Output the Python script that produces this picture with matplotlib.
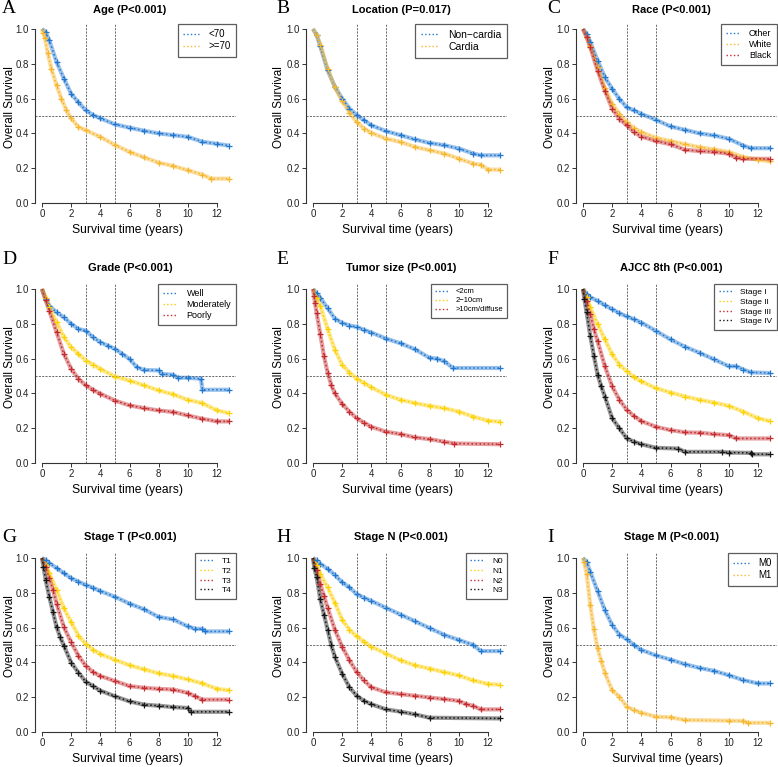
import matplotlib
matplotlib.use('Agg')
import matplotlib.pyplot as plt
from matplotlib.lines import Line2D

plt.rcParams['font.family'] = ['Liberation Sans', 'DejaVu Sans']

W, H = 778, 767

BLUE = '#1f77d0'
GOLD = '#f7b52a'
YELLOW = '#fdd000'
RED = '#c42a2e'
BLACK = '#161616'

# survival curves: (years, survival)
age_lt70 = [(0, 1.0), (0.25, 0.983), (0.5, 0.935), (1, 0.81), (1.5, 0.715), (2, 0.628), (2.5, 0.578),
            (3, 0.533), (3.5, 0.505), (4, 0.487), (5, 0.452), (6, 0.433), (7, 0.415), (8, 0.40),
            (9, 0.39), (10, 0.38), (11, 0.352), (12, 0.34), (12.8, 0.33)]
age_ge70 = [(0, 1.0), (0.1, 0.975), (0.2, 0.95), (0.4, 0.86), (0.65, 0.77), (1, 0.676), (1.33, 0.60),
            (1.67, 0.533), (2, 0.486), (2.5, 0.437), (3, 0.418), (4, 0.38), (5, 0.333), (6, 0.294),
            (7, 0.262), (8, 0.232), (9, 0.213), (10, 0.188), (11, 0.163), (11.6, 0.14), (12.8, 0.14)]

loc_noncardia = [(0, 1.0), (0.25, 0.965), (0.5, 0.90), (1, 0.764), (1.5, 0.668), (2, 0.60), (2.5, 0.543),
                 (3, 0.505), (3.5, 0.476), (4, 0.447), (5, 0.413), (6, 0.39), (7, 0.365), (8, 0.345),
                 (9, 0.332), (10, 0.313), (11, 0.284), (11.5, 0.274), (12.8, 0.274)]
loc_cardia = [(0, 1.0), (0.25, 0.965), (0.5, 0.91), (1, 0.77), (1.5, 0.665), (2, 0.585), (2.5, 0.52),
              (3, 0.466), (3.5, 0.428), (4, 0.403), (5, 0.37), (6, 0.351), (7, 0.322), (8, 0.303),
              (9, 0.284), (10, 0.255), (11, 0.226), (11.5, 0.22), (12, 0.192), (12.8, 0.192)]

race_other = [(0, 1.0), (0.25, 0.97), (0.5, 0.925), (1, 0.818), (1.5, 0.723), (2, 0.656), (2.5, 0.598),
              (3, 0.55), (3.5, 0.532), (4, 0.512), (5, 0.478), (6, 0.44), (7, 0.42), (8, 0.40),
              (9, 0.388), (10, 0.369), (11, 0.33), (11.5, 0.315), (12.8, 0.315)]
race_white = [(0, 1.0), (0.25, 0.955), (0.5, 0.905), (1, 0.78), (1.5, 0.66), (2, 0.57), (2.5, 0.512),
              (3, 0.465), (3.5, 0.43), (4, 0.407), (5, 0.375), (6, 0.356), (7, 0.337), (8, 0.321),
              (9, 0.308), (10, 0.293), (11, 0.264), (12, 0.249), (12.8, 0.24)]
race_black = [(0, 1.0), (0.25, 0.952), (0.5, 0.895), (1, 0.761), (1.5, 0.646), (2, 0.541), (2.5, 0.484),
              (3, 0.446), (3.5, 0.407), (4, 0.382), (5, 0.356), (6, 0.337), (7, 0.306), (8, 0.298),
              (9, 0.293), (10, 0.283), (10.5, 0.26), (11, 0.254), (12.8, 0.254)]

grade_well = [(0, 1.0), (0.25, 0.943), (0.5, 0.904), (1, 0.866), (1.5, 0.837), (2, 0.80), (2.5, 0.77),
              (3, 0.761), (3.5, 0.723), (4, 0.694), (4.5, 0.675), (5, 0.656), (5.5, 0.627), (6, 0.598),
              (6.5, 0.551), (7, 0.535), (8, 0.532), (8.2, 0.512), (9, 0.507), (9.3, 0.49), (10, 0.49),
              (10.9, 0.484), (11, 0.421), (12.8, 0.421)]
grade_moderate = [(0, 1.0), (0.25, 0.95), (0.5, 0.895), (1, 0.81), (1.5, 0.723), (2, 0.665), (2.5, 0.627),
                  (3, 0.589), (3.5, 0.566), (4, 0.541), (5, 0.497), (6, 0.474), (7, 0.446), (8, 0.417),
                  (9, 0.394), (10, 0.363), (11, 0.344), (12, 0.302), (12.8, 0.287)]
grade_poor = [(0, 1.0), (0.25, 0.935), (0.5, 0.876), (1, 0.751), (1.5, 0.627), (2, 0.541), (2.5, 0.484),
              (3, 0.446), (3.5, 0.421), (4, 0.398), (5, 0.359), (6, 0.331), (7, 0.315), (8, 0.302),
              (9, 0.293), (10, 0.273), (11, 0.254), (12, 0.239), (12.8, 0.239)]

size_small = [(0, 1.0), (0.25, 0.975), (0.5, 0.95), (1, 0.89), (1.5, 0.83), (2, 0.805), (2.5, 0.79),
              (3, 0.782), (3.5, 0.765), (4, 0.75), (5, 0.715), (6, 0.688), (7, 0.653), (8, 0.604),
              (8.5, 0.60), (9, 0.585), (9.6, 0.546), (12.8, 0.546)]
size_mid = [(0, 1.0), (0.25, 0.95), (0.5, 0.905), (1, 0.77), (1.5, 0.65), (2, 0.565), (2.5, 0.52),
            (3, 0.485), (3.5, 0.46), (4, 0.435), (5, 0.392), (6, 0.363), (7, 0.344), (8, 0.328),
            (9, 0.315), (10, 0.295), (11, 0.266), (12, 0.243), (12.8, 0.237)]
size_large = [(0, 1.0), (0.07, 0.96), (0.14, 0.92), (0.25, 0.862), (0.5, 0.74), (0.75, 0.615), (1, 0.52),
              (1.25, 0.45), (1.5, 0.40), (2, 0.34), (2.5, 0.295), (3, 0.257), (3.5, 0.232), (4, 0.208),
              (5, 0.18), (6, 0.166), (7, 0.147), (8, 0.137), (9, 0.122), (9.7, 0.112), (12.8, 0.108)]

ajcc_1 = [(0, 1.0), (0.25, 0.97), (0.5, 0.952), (1, 0.932), (1.5, 0.907), (2, 0.884), (2.5, 0.861),
          (3, 0.842), (3.5, 0.826), (4, 0.807), (5, 0.759), (6, 0.71), (7, 0.668), (8, 0.633),
          (9, 0.595), (10, 0.556), (10.5, 0.556), (11, 0.537), (11.5, 0.521), (12.8, 0.517)]
ajcc_2 = [(0, 1.0), (0.25, 0.952), (0.5, 0.894), (1, 0.797), (1.5, 0.71), (2, 0.624), (2.5, 0.566),
          (3, 0.527), (3.5, 0.494), (4, 0.469), (5, 0.43), (6, 0.405), (7, 0.382), (8, 0.363),
          (9, 0.347), (10, 0.328), (11, 0.295), (12, 0.257), (12.8, 0.241)]
ajcc_3 = [(0, 1.0), (0.25, 0.932), (0.5, 0.855), (0.75, 0.768), (1, 0.70), (1.5, 0.556), (2, 0.44),
          (2.5, 0.363), (3, 0.305), (3.5, 0.27), (4, 0.241), (5, 0.208), (6, 0.189), (7, 0.176),
          (8, 0.174), (9, 0.166), (10, 0.16), (10.5, 0.141), (12.8, 0.141)]
ajcc_4 = [(0, 1.0), (0.1, 0.94), (0.25, 0.865), (0.5, 0.73), (0.75, 0.614), (1, 0.508), (1.25, 0.44),
          (1.5, 0.382), (2, 0.257), (2.5, 0.199), (3, 0.141), (3.5, 0.122), (4, 0.108), (5, 0.087),
          (6.5, 0.083), (7, 0.064), (9.5, 0.064), (10, 0.06), (11.5, 0.058), (11.6, 0.05), (12.8, 0.05)]

t_1 = [(0, 1.0), (0.25, 0.99), (0.5, 0.971), (1, 0.942), (1.5, 0.913), (2, 0.884), (2.5, 0.864),
       (3, 0.845), (3.5, 0.829), (4, 0.81), (5, 0.777), (6, 0.738), (7, 0.705), (8, 0.661),
       (9, 0.647), (10, 0.607), (10.5, 0.593), (11, 0.593), (11.2, 0.578), (12.8, 0.578)]
t_2 = [(0, 1.0), (0.25, 0.961), (0.5, 0.913), (1, 0.816), (1.5, 0.71), (2, 0.632), (2.5, 0.554),
       (3, 0.506), (3.5, 0.473), (4, 0.448), (5, 0.415), (6, 0.384), (7, 0.36), (8, 0.337),
       (9, 0.322), (10, 0.302), (11, 0.279), (12, 0.248), (12.8, 0.24)]
t_3 = [(0, 1.0), (0.25, 0.95), (0.5, 0.884), (0.75, 0.816), (1, 0.738), (1.5, 0.603), (2, 0.516),
       (2.5, 0.438), (3, 0.38), (3.5, 0.345), (4, 0.322), (5, 0.293), (6, 0.264), (7, 0.254),
       (8, 0.248), (9, 0.244), (10, 0.225), (10.5, 0.205), (11, 0.186), (12.8, 0.186)]
t_4 = [(0, 1.0), (0.1, 0.95), (0.25, 0.874), (0.5, 0.777), (0.75, 0.69), (1, 0.603), (1.25, 0.545),
       (1.5, 0.496), (2, 0.399), (2.5, 0.341), (3, 0.289), (3.5, 0.264), (4, 0.238), (5, 0.205),
       (6, 0.176), (7, 0.157), (8, 0.151), (9, 0.143), (10, 0.138), (10.2, 0.116), (12.8, 0.116)]

n_0 = [(0, 1.0), (0.25, 0.986), (0.5, 0.967), (1, 0.938), (1.5, 0.903), (2, 0.86), (2.5, 0.831),
       (3, 0.792), (3.5, 0.772), (4, 0.753), (5, 0.714), (6, 0.675), (7, 0.636), (8, 0.597),
       (9, 0.558), (10, 0.529), (11, 0.50), (11.5, 0.465), (12.8, 0.465)]
n_1 = [(0, 1.0), (0.25, 0.96), (0.5, 0.908), (1, 0.831), (1.5, 0.743), (2, 0.646), (2.5, 0.588),
       (3, 0.549), (3.5, 0.52), (4, 0.49), (5, 0.451), (6, 0.412), (7, 0.383), (8, 0.364),
       (9, 0.344), (10, 0.325), (11, 0.296), (12, 0.276), (12.8, 0.272)]
n_2 = [(0, 1.0), (0.25, 0.93), (0.5, 0.85), (0.75, 0.782), (1, 0.714), (1.5, 0.588), (2, 0.49),
       (2.5, 0.412), (3, 0.344), (3.5, 0.296), (4, 0.257), (5, 0.228), (6, 0.218), (7, 0.208),
       (8, 0.198), (9, 0.189), (10, 0.179), (10.5, 0.16), (11, 0.15), (11.5, 0.13), (12.8, 0.13)]
n_3 = [(0, 1.0), (0.1, 0.94), (0.25, 0.889), (0.5, 0.763), (0.75, 0.675), (1, 0.588), (1.25, 0.50),
       (1.5, 0.432), (2, 0.335), (2.5, 0.257), (3, 0.208), (3.5, 0.179), (4, 0.16), (5, 0.13),
       (6, 0.117), (7, 0.101), (8, 0.082), (12.8, 0.078)]

m_0 = [(0, 1.0), (0.25, 0.977), (0.5, 0.92), (1, 0.81), (1.5, 0.70), (2, 0.615), (2.5, 0.56),
       (3, 0.533), (3.5, 0.50), (4, 0.472), (5, 0.44), (6, 0.416), (7, 0.389), (8, 0.368),
       (9, 0.351), (10, 0.326), (11, 0.298), (12, 0.279), (12.8, 0.279)]
m_1 = [(0, 1.0), (0.07, 0.977), (0.25, 0.91), (0.5, 0.73), (0.75, 0.59), (1, 0.48), (1.25, 0.41),
       (1.5, 0.34), (2, 0.24), (2.5, 0.202), (3, 0.145), (3.5, 0.126), (4, 0.111), (5, 0.088),
       (6, 0.084), (7, 0.069), (10, 0.065), (11, 0.063), (11.3, 0.053), (12.8, 0.053)]

# panel definitions
titles = ['Age (P<0.001)', 'Location (P=0.017)', 'Race (P<0.001)',
          'Grade (P<0.001)', 'Tumor size (P<0.001)', 'AJCC 8th (P<0.001)',
          'Stage T (P<0.001)', 'Stage N (P<0.001)', 'Stage M (P<0.001)']
letters = ['A', 'B', 'C', 'D', 'E', 'F', 'G', 'H', 'I']
panel_curves = [[age_lt70, age_ge70], [loc_noncardia, loc_cardia], [race_other, race_white, race_black],
                [grade_well, grade_moderate, grade_poor], [size_small, size_mid, size_large],
                [ajcc_1, ajcc_2, ajcc_3, ajcc_4], [t_1, t_2, t_3, t_4], [n_0, n_1, n_2, n_3], [m_0, m_1]]
panel_labels = [['<70', '>=70'], ['Non\u2212cardia', 'Cardia'], ['Other', 'White', 'Black'],
                ['Well', 'Moderately', 'Poorly'], ['<2cm', '2\u221210cm', '>10cm/diffuse'],
                ['Stage I', 'Stage II', 'Stage III', 'Stage IV'], ['T1', 'T2', 'T3', 'T4'],
                ['N0', 'N1', 'N2', 'N3'], ['M0', 'M1']]
panel_colors = [[BLUE, GOLD], [BLUE, GOLD], [BLUE, GOLD, RED],
                [BLUE, YELLOW, RED], [BLUE, YELLOW, RED], [BLUE, YELLOW, RED, BLACK],
                [BLUE, YELLOW, RED, BLACK], [BLUE, YELLOW, RED, BLACK], [BLUE, GOLD]]
legend_sizes = [7, 7.5, 6.5, 6.5, 5.5, 6, 6, 6, 7]

# layout in pixels
col_x0 = [42, 313, 583]          # x position of t = 0
row_y0 = [203, 463, 732]         # y position of survival = 0
letter_x = [2, 276, 547]
letter_y = [8.5, 259, 537]
title_y = [10, 268, 537]
ylab_x = [10, 279, 550]
PX_X = 175 / 12.0                # pixels per year
PX_Y = 174.0                     # pixels per unit survival
XLIM = (-0.48, 13.31)
YLIM = (0, 1.03)


def fx(px):
    return px / W


def fy(py):
    return 1 - py / H


def draw_panel(fig, i):
    r, c = divmod(i, 3)
    x0, y0 = col_x0[c], row_y0[r]
    left = x0 + XLIM[0] * PX_X
    width = (XLIM[1] - XLIM[0]) * PX_X
    height = (YLIM[1] - YLIM[0]) * PX_Y
    ax = fig.add_axes([fx(left), fy(y0), width / W, height / H])
    ax.set_xlim(*XLIM)
    ax.set_ylim(*YLIM)
    ax.patch.set_alpha(0)

    # reference lines at median survival and 3 / 5 years
    ax.axhline(0.5, color='#555555', lw=0.6, dashes=(2.5, 1.5), zorder=1)
    for xv in (3, 5):
        ax.axvline(xv, color='#555555', lw=0.6, dashes=(2.5, 1.5), zorder=1)

    for pts, col in zip(panel_curves[i], panel_colors[i]):
        t = [p[0] for p in pts]
        s = [p[1] for p in pts]
        ax.plot(t, s, color=col, lw=3.0, alpha=0.45, solid_capstyle='butt', zorder=2)
        ax.plot(t, s, color=col, lw=1.1, ls=':', zorder=3)
        ax.plot(t[1:], s[1:], ls='none', marker='+', ms=4.5, mew=0.9, color=col, zorder=3)

    for side in ('top', 'right'):
        ax.spines[side].set_visible(False)
    for side in ('left', 'bottom'):
        ax.spines[side].set_color('#333333')
        ax.spines[side].set_linewidth(0.8)
    ax.spines['bottom'].set_bounds(0, 12)
    ax.spines['left'].set_bounds(0, 1)
    ax.set_xticks([0, 2, 4, 6, 8, 10, 12])
    ax.set_yticks([0, 0.2, 0.4, 0.6, 0.8, 1.0])
    ax.set_yticklabels(['0.0', '0.2', '0.4', '0.6', '0.8', '1.0'])
    ax.tick_params(length=3, width=0.7, labelsize=7, pad=1.2, color='#333333', labelcolor='#222222')

    handles = [Line2D([], [], color=col, lw=1.0, ls=':') for col in panel_colors[i]]
    leg = ax.legend(handles, panel_labels[i], loc='upper right', fontsize=legend_sizes[i],
                    frameon=True, fancybox=False, borderaxespad=0, handlelength=1.6,
                    handletextpad=1.0, borderpad=0.55, labelspacing=0.22)
    leg.get_frame().set_edgecolor('#333333')
    leg.get_frame().set_linewidth(0.9)

    fig.text(fx(x0 + 88), fy(title_y[r]), titles[i], ha='center', va='center',
             fontsize=8, fontweight='bold')
    fig.text(fx(letter_x[c]), fy(letter_y[r]), letters[i], ha='left', va='center',
             fontsize=14, family=['Liberation Serif', 'DejaVu Serif'])
    fig.text(fx(ylab_x[c]), fy(y0 - 0.55 * PX_Y), 'Overall Survival', rotation=90,
             ha='center', va='center', fontsize=8.4)
    fig.text(fx(x0 + 85), fy(y0 + 27), 'Survival time (years)', ha='center', va='center',
             fontsize=8.7)


def main():
    fig = plt.figure(figsize=(W / 100, H / 100), dpi=100)
    for i in range(9):
        draw_panel(fig, i)
    fig.savefig('out.png', dpi=100)
    plt.close(fig)


if __name__ == '__main__':
    main()
